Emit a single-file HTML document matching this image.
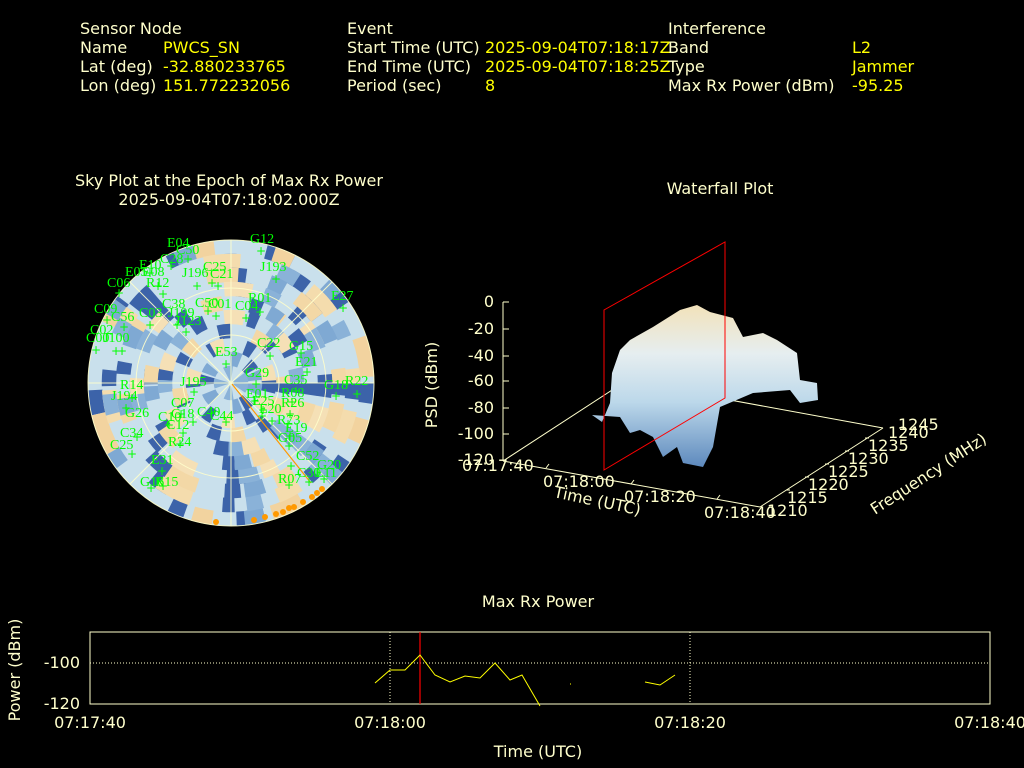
<!DOCTYPE html>
<html><head><meta charset="utf-8"><style>
html,body{margin:0;padding:0;background:#000;}
svg{display:block;}
text{font-family:"DejaVu Sans","Liberation Sans",sans-serif;}
.c{fill:#ffffcc;font-size:16px;}
.v{fill:#ffff00;font-size:16px;}
.g text{fill:#00ff00;font-family:"Liberation Serif","DejaVu Serif",serif;font-size:14px;}
.p text{fill:#00ff00;font-family:"DejaVu Sans",sans-serif;font-size:12px;}
</style></head><body>
<svg width="1024" height="768" viewBox="0 0 1024 768" xmlns="http://www.w3.org/2000/svg">
<rect width="1024" height="768" fill="#000"/>
<!-- header -->
<text class="c" x="80" y="34">Sensor Node</text>
<text class="c" x="80" y="53">Name</text><text class="v" x="163" y="53">PWCS_SN</text>
<text class="c" x="80" y="72">Lat (deg)</text><text class="v" x="163" y="72">-32.880233765</text>
<text class="c" x="80" y="91">Lon (deg)</text><text class="v" x="163" y="91">151.772232056</text>
<text class="c" x="347" y="34">Event</text>
<text class="c" x="347" y="53">Start Time (UTC)</text><text class="v" x="485" y="53">2025-09-04T07:18:17Z</text>
<text class="c" x="347" y="72">End Time (UTC)</text><text class="v" x="485" y="72">2025-09-04T07:18:25Z</text>
<text class="c" x="347" y="91">Period (sec)</text><text class="v" x="485" y="91">8</text>
<text class="c" x="668" y="34">Interference</text>
<text class="c" x="668" y="53">Band</text><text class="v" x="852" y="53">L2</text>
<text class="c" x="668" y="72">Type</text><text class="v" x="852" y="72">Jammer</text>
<text class="c" x="668" y="91">Max Rx Power (dBm)</text><text class="v" x="852" y="91">-95.25</text>

<!-- sky plot -->
<text class="c" x="229" y="186" text-anchor="middle">Sky Plot at the Epoch of Max Rx Power</text>
<text class="c" x="229" y="205" text-anchor="middle">2025-09-04T07:18:02.000Z</text>
<g transform="translate(231,383)" fill="none" stroke-width="14.5">
<circle r="143" fill="#c9e0ec" stroke="none"/>
<circle r="136" stroke="#3c63a9" stroke-dasharray="20 60 12 88 28 52 16 120 24 76"/>
<circle r="136" stroke="#f2d39f" stroke-dasharray="0 36 24 80 32 60 20 104 40 56" />
<circle r="136" stroke="#7fa9d3" stroke-dasharray="0 92 16 72 20 140 16 48"/>
<circle r="122" stroke="#3c63a9" stroke-dasharray="16 68 24 80 12 56 20 104"/>
<circle r="122" stroke="#f4dcad" stroke-dasharray="0 28 32 60 24 88 36 48"/>
<circle r="122" stroke="#8ab2d8" stroke-dasharray="0 80 20 60 16 96"/>
<circle r="108" stroke="#3c63a9" stroke-dasharray="12 52 20 76 16 60 24 88"/>
<circle r="108" stroke="#f3d8a6" stroke-dasharray="0 20 28 56 20 80 32 44"/>
<circle r="108" stroke="#7fa9d3" stroke-dasharray="0 68 16 52 20 84"/>
<circle r="94" stroke="#3c63a9" stroke-dasharray="14 48 12 60 18 72"/>
<circle r="94" stroke="#f5e0b6" stroke-dasharray="0 24 24 52 16 68 28 40"/>
<circle r="94" stroke="#8ab2d8" stroke-dasharray="0 60 16 44 20 68"/>
<circle r="80" stroke="#3c63a9" stroke-dasharray="12 40 14 56 12 64"/>
<circle r="80" stroke="#f3d8a6" stroke-dasharray="0 20 20 48 16 60"/>
<circle r="80" stroke="#7fa9d3" stroke-dasharray="0 52 14 40 16 60"/>
<circle r="66" stroke="#3c63a9" stroke-dasharray="10 36 12 48 14 44"/>
<circle r="66" stroke="#f5e0b6" stroke-dasharray="0 16 20 40 16 52"/>
<circle r="66" stroke="#8ab2d8" stroke-dasharray="0 44 12 36 14 48"/>
<circle r="52" stroke="#3c63a9" stroke-dasharray="10 32 10 40 12 36"/>
<circle r="52" stroke="#f3d8a6" stroke-dasharray="0 16 16 36 14 44"/>
<circle r="38" stroke="#3c63a9" stroke-dasharray="9 28 9 32"/>
<circle r="38" stroke="#f5e0b6" stroke-dasharray="0 14 14 28 12 36"/>
<circle r="24" stroke="#7fa9d3" stroke-dasharray="10 18 8 20"/>
<circle r="24" stroke="#3c63a9" stroke-dasharray="0 18 8 30"/>
<circle r="10" stroke="#8ab2d8" stroke-dasharray="6 8"/>
<!-- grid -->
<g stroke="#ffffcc" stroke-width="1" opacity="0.9">
<circle r="143"/><circle r="95"/><circle r="48"/>
<line x1="-143" y1="0" x2="143" y2="0"/><line x1="0" y1="-143" x2="0" y2="143"/>
<line x1="-101" y1="-101" x2="101" y2="101"/><line x1="-101" y1="101" x2="101" y2="-101"/>
</g>
<line x1="1" y1="1" x2="80" y2="100" stroke="#ff9900" stroke-width="1.2"/>
</g>
<g fill="#ff9900">
<circle cx="216" cy="522" r="3"/><circle cx="254" cy="520" r="3"/><circle cx="265" cy="517" r="3"/><circle cx="276" cy="514" r="3"/><circle cx="283" cy="512" r="3"/><circle cx="289" cy="508" r="3"/><circle cx="294" cy="507" r="3"/><circle cx="303" cy="502" r="3"/><circle cx="312" cy="497" r="3"/><circle cx="317" cy="493" r="3"/><circle cx="322" cy="489" r="3"/>
</g>
<g class="g">
<text x="250" y="243">G12</text><text x="167" y="247">E04</text><text x="176" y="254">C50</text><text x="160" y="263">C28</text>
<text x="139" y="269">E10</text><text x="125" y="276">E05</text><text x="142" y="276">E08</text><text x="260" y="271">J193</text>
<text x="203" y="271">C25</text><text x="182" y="277">J196</text><text x="210" y="278">C21</text><text x="107" y="287">C06</text>
<text x="146" y="287">R12</text><text x="162" y="308">C38</text><text x="195" y="307">C50</text><text x="208" y="308">C01</text>
<text x="235" y="310">C04</text><text x="248" y="302">R01</text><text x="331" y="300">E27</text><text x="94" y="313">C09</text>
<text x="139" y="317">C03</text><text x="168" y="317">J199</text><text x="111" y="321">C56</text><text x="175" y="325">J123</text>
<text x="90" y="334">C02</text><text x="86" y="342">C00</text><text x="103" y="342">J100</text><text x="257" y="347">C22</text>
<text x="289" y="350">G15</text><text x="215" y="356">E53</text><text x="295" y="366">E21</text><text x="180" y="386">J195</text>
<text x="245" y="377">G29</text><text x="284" y="384">C35</text><text x="324" y="389">G18</text><text x="345" y="385">R22</text>
<text x="120" y="389">R14</text><text x="281" y="397">R08</text><text x="246" y="398">E01</text><text x="111" y="400">J194</text>
<text x="252" y="405">E25</text><text x="281" y="407">R26</text><text x="171" y="407">C07</text><text x="171" y="418">C18</text>
<text x="197" y="416">C40</text><text x="259" y="413">E20</text><text x="158" y="421">C10</text><text x="210" y="420">C44</text>
<text x="125" y="417">G26</text><text x="277" y="424">R73</text><text x="285" y="432">E19</text><text x="166" y="429">C12</text>
<text x="120" y="437">C34</text><text x="168" y="446">R24</text><text x="278" y="442">G05</text><text x="110" y="449">C25</text>
<text x="296" y="460">C52</text><text x="151" y="464">E31</text><text x="317" y="469">G20</text><text x="297" y="477">C30</text>
<text x="140" y="486">G16</text><text x="155" y="486">R15</text><text x="278" y="483">R07</text><text x="315" y="477">E11</text>
</g>
<g class="p" text-anchor="middle">
<text x="261" y="255">+</text><text x="188" y="263">+</text><text x="171" y="270">+</text><text x="150" y="277">+</text>
<text x="276" y="283">+</text><text x="212" y="287">+</text><text x="218" y="290">+</text><text x="197" y="290">+</text>
<text x="119" y="297">+</text><text x="158" y="290">+</text><text x="163" y="298">+</text><text x="343" y="312">+</text>
<text x="107" y="324">+</text><text x="150" y="329">+</text><text x="177" y="329">+</text><text x="186" y="336">+</text>
<text x="208" y="315">+</text><text x="216" y="320">+</text><text x="246" y="322">+</text><text x="260" y="316">+</text>
<text x="124" y="331">+</text><text x="96" y="354">+</text><text x="116" y="355">+</text><text x="122" y="355">+</text>
<text x="270" y="360">+</text><text x="301" y="357">+</text><text x="226" y="368">+</text><text x="307" y="376">+</text>
<text x="194" y="396">+</text><text x="256" y="388">+</text><text x="296" y="395">+</text><text x="336" y="400">+</text>
<text x="357" y="398">+</text><text x="132" y="402">+</text><text x="292" y="406">+</text><text x="255" y="405">+</text>
<text x="126" y="412">+</text><text x="263" y="414">+</text><text x="290" y="418">+</text><text x="181" y="418">+</text>
<text x="262" y="420">+</text><text x="193" y="426">+</text><text x="226" y="426">+</text><text x="272" y="425">+</text>
<text x="288" y="428">+</text><text x="169" y="429">+</text><text x="183" y="437">+</text><text x="290" y="440">+</text>
<text x="137" y="441">+</text><text x="180" y="448">+</text><text x="289" y="450">+</text><text x="132" y="458">+</text>
<text x="291" y="470">+</text><text x="162" y="475">+</text><text x="309" y="486">+</text><text x="324" y="483">+</text>
<text x="151" y="492">+</text><text x="163" y="490">+</text><text x="289" y="489">+</text>
</g>

<!-- waterfall -->
<text class="c" x="720" y="194" text-anchor="middle">Waterfall Plot</text>
<defs>
<linearGradient id="wf" x1="0" y1="0" x2="0" y2="1">
<stop offset="0" stop-color="#f2e2ba"/><stop offset="0.3" stop-color="#e6eef0"/>
<stop offset="0.6" stop-color="#bcd8ea"/><stop offset="1" stop-color="#5d89bd"/>
</linearGradient>
</defs>
<g stroke="#ffffcc" stroke-width="1" fill="none">
<line x1="503" y1="461" x2="626" y2="381"/>
<line x1="626" y1="381" x2="883" y2="428"/>
<line x1="503" y1="461" x2="760" y2="507"/>
<line x1="760" y1="507" x2="883" y2="428"/>
<line x1="503" y1="302" x2="503" y2="461"/>
<line x1="503" y1="302" x2="509" y2="302"/><line x1="503" y1="329" x2="509" y2="329"/><line x1="503" y1="356" x2="509" y2="356"/><line x1="503" y1="381" x2="509" y2="381"/><line x1="503" y1="408" x2="509" y2="408"/><line x1="503" y1="434" x2="509" y2="434"/>
<line x1="546" y1="468" x2="549" y2="464"/><line x1="631" y1="484" x2="634" y2="480"/><line x1="717" y1="499" x2="720" y2="495"/>
<line x1="790" y1="490" x2="786" y2="490"/><line x1="809" y1="477" x2="805" y2="477"/><line x1="829" y1="464" x2="825" y2="464"/><line x1="849" y1="451" x2="845" y2="451"/><line x1="869" y1="438" x2="865" y2="438"/>
</g>
<polygon fill="url(#wf)" points="592,415 602,422 610,403 612,373 620,350 630,340 653,327 680,310 697,305 710,312 733,318 743,337 763,333 777,340 797,353 800,380 817,383 818,400 800,403 790,390 753,393 720,407 713,447 703,467 683,463 677,447 663,457 653,437 640,430 630,433 620,417"/>
<g stroke="#ff0000" stroke-width="1" fill="none">
<polygon points="604,470 725,398 725,242 604,310"/>
</g>
<g class="c" text-anchor="end">
<text x="494" y="307">0</text><text x="494" y="334">-20</text><text x="494" y="361">-40</text><text x="494" y="386">-60</text><text x="494" y="413">-80</text><text x="494" y="439">-100</text><text x="494" y="465">-120</text>
</g>
<text class="c" x="0" y="0" transform="translate(437,385) rotate(-90)" text-anchor="middle">PSD (dBm)</text>
<text class="c" x="462" y="471">07:17:40</text>
<text class="c" x="543" y="487">07:18:00</text>
<text class="c" x="624" y="502">07:18:20</text>
<text class="c" x="704" y="518">07:18:40</text>
<text class="c" transform="translate(553,497) rotate(12)">Time (UTC)</text>
<g class="c">
<text x="767" y="516">1210</text><text x="787" y="503">1215</text><text x="808" y="490">1220</text><text x="828" y="477">1225</text><text x="848" y="464">1230</text><text x="868" y="451">1235</text><text x="888" y="438">1240</text><text x="898" y="430">1245</text>
</g>
<text class="c" transform="translate(875,515) rotate(-33)">Frequency (MHz)</text>

<!-- max rx power -->
<text class="c" x="538" y="607" text-anchor="middle">Max Rx Power</text>
<rect x="90" y="632" width="900" height="72" fill="none" stroke="#ffffcc" stroke-width="1"/>
<g stroke="#ffffcc" stroke-width="1" stroke-dasharray="1 2" fill="none">
<line x1="90" y1="663" x2="990" y2="663"/><line x1="390" y1="632" x2="390" y2="704"/><line x1="690" y1="632" x2="690" y2="704"/>
</g>
<line x1="420" y1="632" x2="420" y2="704" stroke="#ff0000" stroke-width="1.2"/>
<polyline fill="none" stroke="#ffff00" stroke-width="1" points="375,683 390,670 405,670 420,655 435,675 450,682 465,676 480,678 495,663 510,680 522,675 540,706"/>
<line x1="570" y1="684" x2="571" y2="684" stroke="#ffff00"/>
<polyline fill="none" stroke="#ffff00" stroke-width="1" points="645,682 660,685 675,675"/>
<g class="c" text-anchor="end"><text x="80" y="668">-100</text><text x="80" y="709">-120</text></g>
<text class="c" transform="translate(20,670) rotate(-90)" text-anchor="middle">Power (dBm)</text>
<g class="c" text-anchor="middle">
<text x="90" y="728">07:17:40</text><text x="390" y="728">07:18:00</text><text x="690" y="728">07:18:20</text><text x="990" y="728">07:18:40</text>
<text x="538" y="757">Time (UTC)</text>
</g>
</svg>
</body></html>
